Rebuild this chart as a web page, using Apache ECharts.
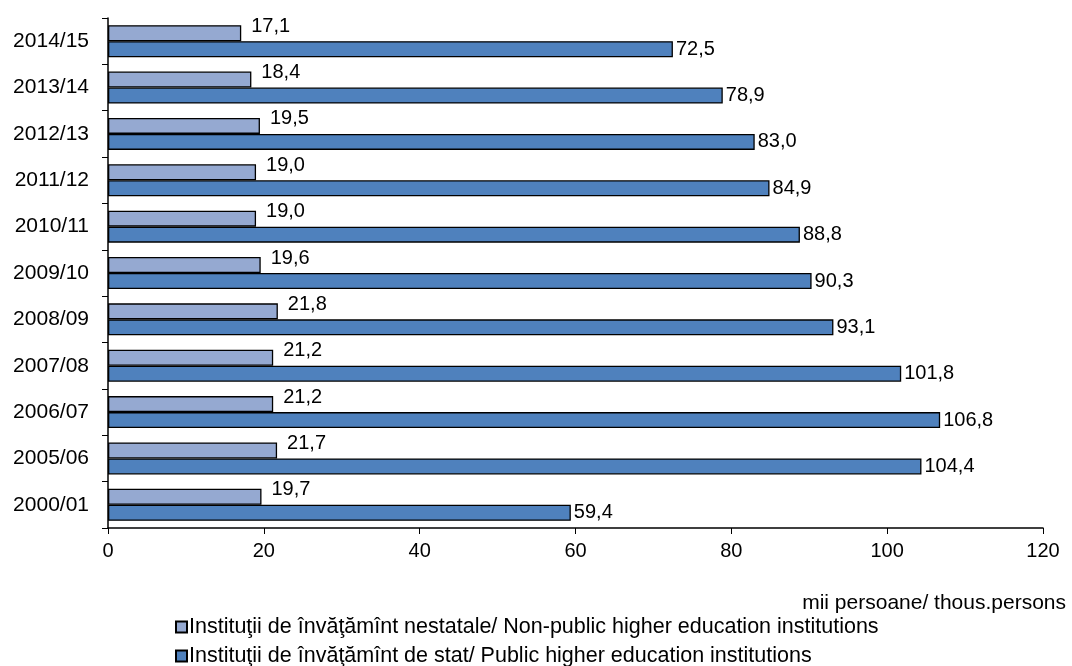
<!DOCTYPE html>
<html>
<head>
<meta charset="utf-8">
<script src="https://cdn.jsdelivr.net/npm/echarts@6/dist/echarts.min.js"></script>
<style>
html,body{margin:0;padding:0;background:#fff;}
#chart{width:1072px;height:666px;}
</style>
</head>
<body>
<div id="chart"></div>
<script>
const years=['2000/01','2005/06','2006/07','2007/08','2008/09','2009/10','2010/11','2011/12','2012/13','2013/14','2014/15'];
const nonPublic=[19.7,21.7,21.2,21.2,21.8,19.6,19.0,19.0,19.5,18.4,17.1];
const publicInst=[59.4,104.4,106.8,101.8,93.1,90.3,88.8,84.9,83.0,78.9,72.5];
const nameNonPublic='Instituţii de învăţămînt nestatale/ Non-public higher education institutions';
const namePublic='Instituţii de învăţămînt de stat/ Public higher education institutions';

const chart=echarts.init(document.getElementById('chart'));
const fmt=p=>p.value.toFixed(1).replace('.',',');
const font='Liberation Sans, Arial, sans-serif';
const legendText={fontSize:21.5,color:'#000',fontFamily:font,padding:[0,0,0,-3]};

chart.setOption({
  animation:false,
  textStyle:{fontFamily:font},
  grid:{left:108,right:29,top:18,bottom:138},
  legend:[{
    data:[nameNonPublic],
    left:170,
    top:614,
    padding:[2,5,2,5],
    itemWidth:11,
    itemHeight:11,
    icon:'rect',
    textStyle:legendText
  },{
    data:[namePublic],
    left:170,
    top:643,
    padding:[2,5,2,5],
    itemWidth:11,
    itemHeight:11,
    icon:'rect',
    textStyle:legendText
  }],
  graphic:[{
    type:'text',
    right:6,
    top:593,
    style:{text:'mii persoane/ thous.persons',fontSize:21,fill:'#000',fontFamily:font}
  }],
  xAxis:{
    type:'value',
    min:0,max:120,interval:20,
    axisLine:{show:true,lineStyle:{color:'#000',width:1.5}},
    axisTick:{show:true,length:6,lineStyle:{color:'#000'}},
    axisLabel:{fontSize:20,color:'#000',margin:13},
    splitLine:{show:false}
  },
  yAxis:{
    type:'category',
    data:years,
    axisLine:{lineStyle:{color:'#000',width:1.5}},
    axisTick:{show:true,length:6,lineStyle:{color:'#000'}},
    axisLabel:{fontSize:21,color:'#000',margin:19}
  },
  series:[
    {
      name:nameNonPublic,
      type:'bar',
      data:nonPublic,
      barGap:'0%',
      barCategoryGap:'31%',
      itemStyle:{color:'#95A9D1',borderColor:'#000',borderWidth:1.3},
      label:{show:true,position:'right',distance:10,offset:[0,-7],fontSize:20,color:'#000',formatter:fmt}
    },
    {
      name:namePublic,
      type:'bar',
      data:publicInst,
      itemStyle:{color:'#4F81BD',borderColor:'#000',borderWidth:1.3},
      label:{show:true,position:'right',distance:3,offset:[0,0],fontSize:20,color:'#000',formatter:fmt}
    }
  ]
});
</script>
</body>
</html>
